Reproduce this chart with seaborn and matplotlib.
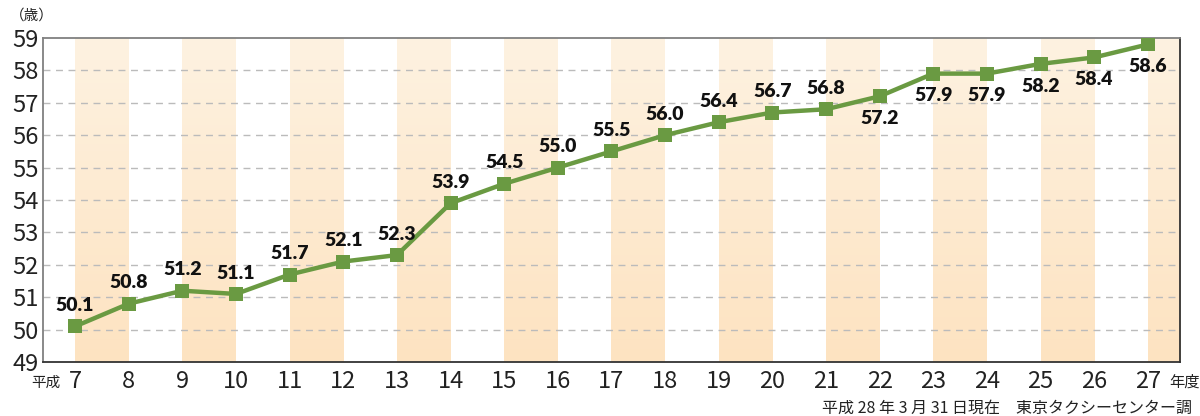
import matplotlib
matplotlib.use("Agg")
import matplotlib.pyplot as plt
import seaborn as sns
import numpy as np
import pandas as pd

years = [7, 8, 9, 10, 11, 12, 13, 14, 15, 16, 17, 18, 19, 20, 21, 22, 23, 24, 25, 26, 27]
# marker heights as drawn in the source chart (last point sits above its label value)
ages = [50.1, 50.8, 51.2, 51.1, 51.7, 52.1, 52.3, 53.9, 54.5, 55.0, 55.5, 56.0,
        56.4, 56.7, 56.8, 57.2, 57.9, 57.9, 58.2, 58.4, 58.8]
labels = ["50.1", "50.8", "51.2", "51.1", "51.7", "52.1", "52.3", "53.9", "54.5", "55.0",
          "55.5", "56.0", "56.4", "56.7", "56.8", "57.2", "57.9", "57.9", "58.2", "58.4", "58.6"]
# labels drawn under the marker for these years
below = [22, 23, 24, 25, 26, 27]
y_ticks = list(range(49, 60))

sns.set_theme(style="white")
plt.rcParams["font.family"] = ["Noto Sans CJK JP", "DejaVu Sans"]

df = pd.DataFrame({"year": years, "age": ages})

fig = plt.figure(figsize=(12, 4.16), dpi=100)
ax = fig.add_axes([0.0358, 0.1298, 0.9475, 0.7789])

# striped background with soft vertical gradient
grad = np.linspace(0, 1, 100).reshape(-1, 1)
cmap = matplotlib.colors.LinearSegmentedColormap.from_list("band", ["#fde3c1", "#fdf2e1"])
for x0 in years[::2]:
    ax.imshow(grad, cmap=cmap, origin="lower", aspect="auto",
              extent=(x0, x0 + 1, 49, 59), zorder=0)

for y in y_ticks[1:-1]:
    ax.axhline(y, color="#bbbbbb", lw=1, ls=(0, (5, 4)), zorder=1)

sns.lineplot(data=df, x="year", y="age", ax=ax, color="#6a9a42", lw=3.2,
             marker="s", markersize=10, markeredgewidth=0, zorder=3)

for x, v, t in zip(years, ages, labels):
    off = -16 if x in below else 15
    ax.annotate(t, (x, v), xytext=(0, off), textcoords="offset points",
                ha="center", va="center", fontsize=14, fontweight="heavy",
                color="#111111", family=["Lato", "DejaVu Sans"], zorder=4)

ax.set_xlim(6.4, 27.6)
ax.set_ylim(49, 59)
ax.set_xticks(years)
ax.set_yticks(y_ticks)
ax.tick_params(axis="both", labelsize=17, length=0, colors="#222222")
ax.tick_params(axis="x", pad=6)
ax.tick_params(axis="y", pad=3)
ax.set_xlabel("")
ax.set_ylabel("")

for side in ["left", "top"]:
    ax.spines[side].set_color("#808080")
for side in ["bottom", "right"]:
    ax.spines[side].set_color("#333333")
for s in ax.spines.values():
    s.set_linewidth(1.3)
    s.set_visible(True)

fig.text(0.008, 0.962, "（歳）", fontsize=10.5, color="#222222", va="center")
fig.text(0.050, 0.081, "平成", fontsize=10.5, color="#222222", va="center", ha="right")
fig.text(0.974, 0.081, "年度", fontsize=11, color="#222222", va="center", ha="left")
fig.text(0.993, 0.019, "平成 28 年 3 月 31 日現在　東京タクシーセンター調",
         fontsize=11.5, color="#222222", va="center", ha="right")

fig.savefig("out.png", dpi=100)
